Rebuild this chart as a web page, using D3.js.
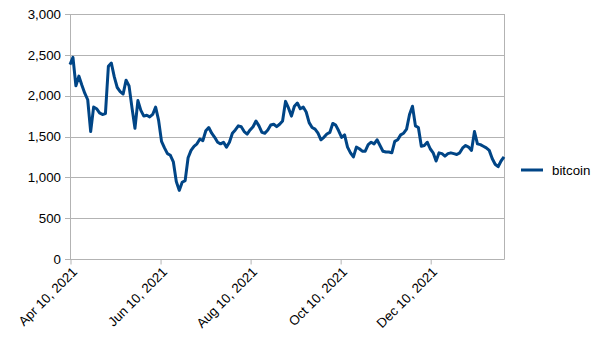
<!DOCTYPE html>
<html>
<head>
<meta charset="utf-8">
<script src="https://cdn.jsdelivr.net/npm/d3@7"></script>
<style>
  html, body { margin: 0; padding: 0; background: #fff; }
  svg { display: block; font-family: "Liberation Sans", Arial, sans-serif; }
</style>
</head>
<body>
<svg id="chart" width="605" height="340"></svg>
<script>
// Series: bitcoin, one reading every second day starting Apr 10, 2021
const seriesName = "bitcoin";
const startDate = new Date(2021, 3, 10);
const endDate = new Date(2022, 0, 29);
const stepDays = 2;
const values = [
  2380, 2470, 2120, 2240, 2130, 2030, 1950, 1560, 1860, 1840,
  1790, 1770, 1780, 2360, 2400, 2230, 2100, 2050, 2020, 2190,
  2120, 1850, 1600, 1940, 1820, 1750, 1760, 1740, 1770, 1860,
  1700, 1440, 1360, 1290, 1270, 1190, 950, 840, 940, 960,
  1240, 1330, 1380, 1410, 1470, 1450, 1570, 1610, 1540, 1490,
  1430, 1410, 1430, 1370, 1430, 1540, 1580, 1630, 1620, 1560,
  1530, 1580, 1620, 1690, 1630, 1550, 1540, 1580, 1640, 1650,
  1620, 1650, 1690, 1930, 1850, 1750, 1870, 1910, 1840, 1860,
  1800, 1670, 1610, 1590, 1540, 1460, 1490, 1530, 1550, 1660,
  1640, 1570, 1490, 1520, 1370, 1300, 1250, 1370, 1350, 1320,
  1320, 1400, 1430, 1410, 1460, 1390, 1320, 1310, 1310, 1300,
  1440, 1460, 1520, 1540, 1590, 1770, 1870, 1630, 1610, 1380,
  1390, 1430, 1350, 1300, 1200, 1300, 1290, 1260, 1290, 1300,
  1290, 1280, 1300, 1360, 1390, 1370, 1330, 1560, 1410, 1400,
  1380, 1360, 1330, 1230, 1160, 1130, 1200, 1250
];
const yTicks = [0, 500, 1000, 1500, 2000, 2500, 3000];
const xTickDates = [
  new Date(2021, 3, 10), new Date(2021, 5, 10), new Date(2021, 7, 10),
  new Date(2021, 9, 10), new Date(2021, 11, 10)
];

const data = values.map((v, i) => ({ date: d3.timeDay.offset(startDate, i * stepDays), value: v }));

const W = 605, H = 340;
const margin = { top: 14, right: 101, bottom: 81, left: 70 };
const iw = W - margin.left - margin.right;
const ih = H - margin.top - margin.bottom;

const svg = d3.select("#chart");
const g = svg.append("g").attr("transform", `translate(${margin.left},${margin.top})`);

const x = d3.scaleTime().domain([startDate, endDate]).range([0, iw]);
const y = d3.scaleLinear().domain([0, 3000]).range([ih, 0]);

const gridColor = "#b3b3b3";

// horizontal gridlines, extended left as tick marks
g.append("g")
  .selectAll("line")
  .data(yTicks)
  .join("line")
  .attr("x1", -5).attr("x2", iw)
  .attr("y1", d => Math.round(y(d)) + 0.5).attr("y2", d => Math.round(y(d)) + 0.5)
  .attr("stroke", gridColor).attr("stroke-width", 1);

// left and right frame lines
g.append("line").attr("x1", 0.5).attr("x2", 0.5).attr("y1", 0).attr("y2", ih + 0.5)
  .attr("stroke", gridColor);
g.append("line").attr("x1", iw + 0.5).attr("x2", iw + 0.5).attr("y1", 0).attr("y2", ih + 0.5)
  .attr("stroke", gridColor);

// y axis labels
const yAxis = d3.axisLeft(y).tickValues(yTicks).tickSize(0).tickPadding(9)
  .tickFormat(d3.format(","));
g.append("g").call(yAxis)
  .call(s => s.select(".domain").remove())
  .call(s => s.selectAll("text").attr("font-size", "13.3px").attr("fill", "#000")
    .attr("font-family", "'Liberation Sans', Arial, sans-serif"));

// x axis
const xAxis = d3.axisBottom(x).tickValues(xTickDates).tickSize(5).tickPadding(4)
  .tickFormat(d3.timeFormat("%b %d, %Y"));
const xg = g.append("g").attr("transform", `translate(0,${Math.round(ih) + 0.5})`).call(xAxis);
xg.select(".domain").attr("stroke", gridColor).attr("d", `M0.5,0H${iw + 0.5}`);
xg.selectAll(".tick line").attr("stroke", gridColor)
  .attr("transform", "translate(0.5,0)");
xg.selectAll("text")
  .attr("font-size", "13.3px").attr("fill", "#000")
  .attr("font-family", "'Liberation Sans', Arial, sans-serif")
  .attr("text-anchor", "end")
  .attr("dy", "0")
  .attr("transform", "translate(1,7) rotate(-45)");

// series line
const line = d3.line().x(d => x(d.date)).y(d => y(d.value));
g.append("path")
  .datum(data)
  .attr("fill", "none")
  .attr("stroke", "#004586")
  .attr("stroke-width", 3)
  .attr("stroke-linejoin", "round")
  .attr("d", line);

// legend
const lg = svg.append("g").attr("transform", `translate(521,170)`);
lg.append("line").attr("x1", 0).attr("x2", 22).attr("y1", 0).attr("y2", 0)
  .attr("stroke", "#004586").attr("stroke-width", 3);
lg.append("text").attr("x", 31).attr("y", 0).attr("dy", "0.35em")
  .attr("font-size", "13.3px").attr("fill", "#000")
  .text(seriesName);
</script>
</body>
</html>
